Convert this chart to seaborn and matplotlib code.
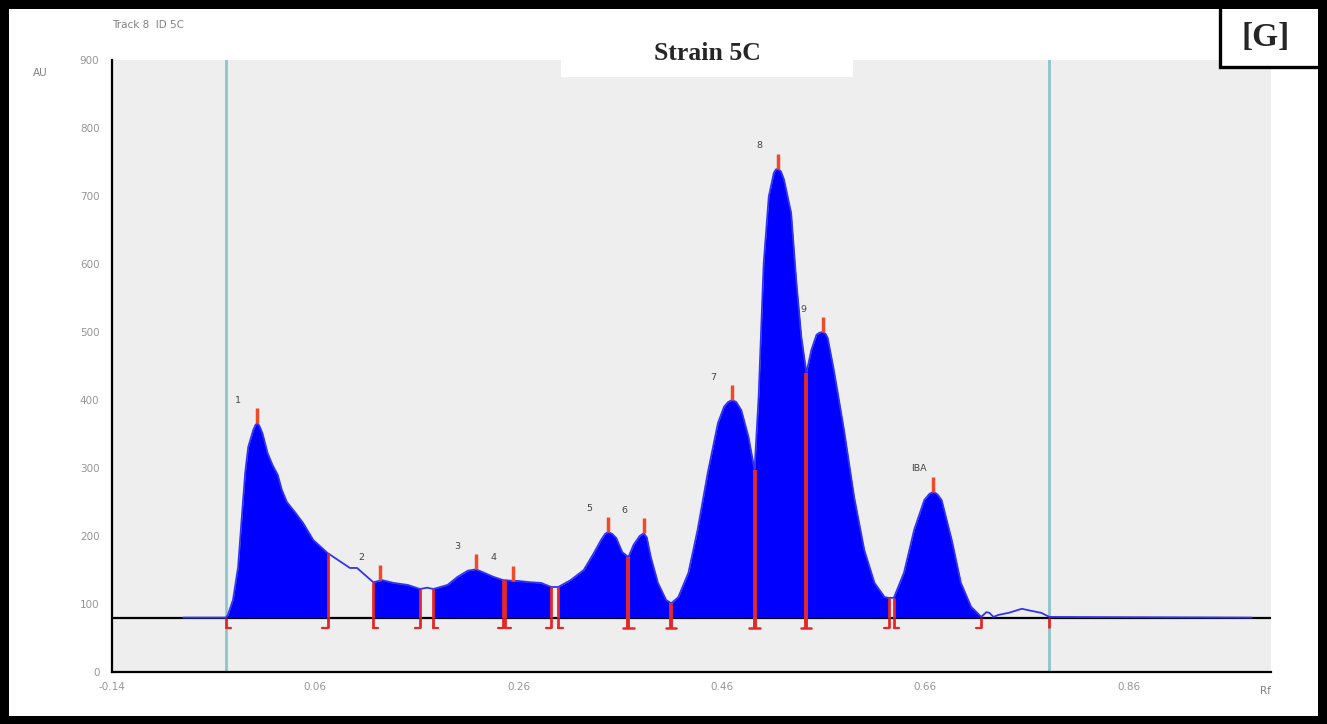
import numpy as np
import pandas as pd
import matplotlib
matplotlib.use("Agg")
import matplotlib.pyplot as plt
import seaborn as sns
from matplotlib.patches import Rectangle

# ---- data ----
rf = [-0.070, -0.028, -0.026, -0.021, -0.016, -0.012, -0.009, -0.006, -0.001, 0.001,
      0.003, 0.005, 0.008, 0.013, 0.018, 0.023, 0.027, 0.032, 0.040, 0.048,
      0.058, 0.072, 0.085, 0.094, 0.101, 0.117, 0.126, 0.137, 0.151, 0.163,
      0.170, 0.176, 0.190, 0.200, 0.210, 0.218, 0.226, 0.235, 0.245, 0.247,
      0.254, 0.259, 0.272, 0.282, 0.292, 0.299, 0.311, 0.324, 0.334, 0.341,
      0.345, 0.348, 0.352, 0.356, 0.362, 0.368, 0.373, 0.379, 0.383, 0.386,
      0.390, 0.397, 0.405, 0.410, 0.417, 0.427, 0.436, 0.446, 0.456, 0.462,
      0.466, 0.470, 0.474, 0.479, 0.486, 0.492, 0.496, 0.501, 0.506, 0.511,
      0.513, 0.515, 0.518, 0.521, 0.528, 0.533, 0.538, 0.543, 0.548, 0.553,
      0.556, 0.559, 0.562, 0.564, 0.570, 0.580, 0.590, 0.600, 0.610, 0.620,
      0.624, 0.629, 0.639, 0.649, 0.659, 0.664, 0.668, 0.672, 0.676, 0.686,
      0.695, 0.705, 0.715, 0.720, 0.723, 0.727, 0.732, 0.742, 0.755, 0.764,
      0.774, 0.782, 0.981]
au = [80, 80, 84, 106, 154, 234, 293, 331, 356, 363,
      366, 362, 351, 322, 304, 290, 268, 250, 235, 219,
      194, 175, 162, 153, 153, 132, 135, 131, 128, 122,
      124, 122, 128, 140, 149, 151, 146, 140, 135, 135,
      134, 134, 132, 131, 125, 125, 135, 150, 175, 194,
      203, 206, 203, 197, 176, 169, 187, 200, 204, 198,
      169, 131, 106, 101, 110, 146, 209, 293, 366, 390,
      397, 400, 397, 385, 346, 297, 404, 601, 699, 734,
      739, 740, 736, 724, 675, 576, 493, 440, 474, 496,
      499, 500, 497, 491, 444, 356, 257, 179, 131, 110,
      109, 109, 146, 209, 253, 262, 265, 261, 253, 194,
      131, 96, 81, 88, 87, 81, 84, 87, 93, 90,
      87, 81, 80]

baseline_au = 80

peak_labels = ["1", "2", "3", "4", "5", "6", "7", "8", "9", "IBA"]
peak_rf = [0.003, 0.124, 0.218, 0.254, 0.348, 0.383, 0.470, 0.515, 0.559, 0.668]
peak_au = [366, 135, 151, 134, 206, 204, 400, 740, 500, 265]

seg_start = [-0.028, 0.117, 0.176, 0.247, 0.299, 0.368, 0.410, 0.492, 0.543, 0.629]
seg_end = [0.072, 0.163, 0.245, 0.292, 0.368, 0.410, 0.492, 0.543, 0.624, 0.715]

marker_rf = [-0.028, 0.072, 0.117, 0.163, 0.176, 0.245, 0.247, 0.292, 0.299,
             0.368, 0.410, 0.492, 0.543, 0.624, 0.629, 0.715, 0.782]
marker_kind = ["L", "R", "L", "R", "L", "R", "L", "R", "L",
               "B", "B", "B", "B", "R", "L", "R", "S"]

window_rf = [-0.028, 0.782]

x_ticks = [-0.14, 0.06, 0.26, 0.46, 0.66, 0.86]
x_tick_labels = ["-0.14", "0.06", "0.26", "0.46", "0.66", "0.86"]
y_ticks = [0, 100, 200, 300, 400, 500, 600, 700, 800, 900]
y_tick_labels = [str(v) for v in y_ticks]

# ---- drawing ----
sns.set_theme(style="white")
plt.rcParams['font.family'] = ['DejaVu Sans']

W, H = 1327, 724
fig = plt.figure(figsize=(W / 100, H / 100), dpi=100)
fig.patch.set_facecolor("white")
ax = fig.add_axes([112 / W, 52 / H, (1271 - 112) / W, (672 - 60) / H])
ax.set_facecolor("#eeeeee")
ax.set_xlim(-0.14, 1.0)
ax.set_ylim(0, 900)

for s in ["top", "right"]:
    ax.spines[s].set_visible(False)
for s in ["left", "bottom"]:
    ax.spines[s].set_color("black")
    ax.spines[s].set_linewidth(1.6)

ax.set_xticks(x_ticks)
ax.set_xticklabels(x_tick_labels)
ax.set_yticks(y_ticks)
ax.set_yticklabels(y_tick_labels)
ax.tick_params(axis="both", direction="out", length=5, width=1.2, color="black",
               labelcolor="#959595", labelsize=7.5, pad=4)
ax.tick_params(axis="x", length=3)

rf_arr = np.array(rf)
au_arr = np.array(au)

# window lines
for w in window_rf:
    ax.axvline(w, color="#8cc4c8", lw=2.0, zorder=1.5)

# baseline
ax.axhline(baseline_au, color="black", lw=1.6, zorder=2)

# fill of integrated peaks
for a, b in zip(seg_start, seg_end):
    m = (rf_arr >= a - 1e-9) & (rf_arr <= b + 1e-9)
    ax.fill_between(rf_arr[m], baseline_au, au_arr[m], color="#0000ff", lw=0, zorder=2.5)

# trace
df = pd.DataFrame({"Rf": rf, "AU": au})
sns.lineplot(data=df, x="Rf", y="AU", ax=ax, color="#3434f0", lw=1.3,
             sort=False, estimator=None, zorder=3)
ax.set_xlabel("")
ax.set_ylabel("")

# red boundary markers
red = "#e42828"
foot = 0.005
low = baseline_au - 15
for x, k in zip(marker_rf, marker_kind):
    ytop = float(np.interp(x, rf_arr, au_arr))
    lw = 2.8 if k == "B" else 2.0
    if ytop > baseline_au + 1:
        ax.plot([x, x], [baseline_au, ytop], color=red, lw=lw, zorder=5,
                solid_capstyle="butt")
    ax.plot([x, x], [baseline_au, low], color=red, lw=lw, zorder=5, solid_capstyle="butt")
    if k == "L":
        ax.plot([x, x + foot], [low, low], color=red, lw=1.6, zorder=5)
    elif k == "R":
        ax.plot([x - foot, x], [low, low], color=red, lw=1.6, zorder=5)
    elif k == "B":
        ax.plot([x - foot, x + foot], [low, low], color=red, lw=1.8, zorder=5)

# peak apex ticks and labels
for lbl, px, pa in zip(peak_labels, peak_rf, peak_au):
    ax.plot([px, px], [pa, pa + 22], color="#f04a2a", lw=2.5, zorder=5,
            solid_capstyle="butt")
    ax.annotate(lbl, (px, pa), xytext=(-22 * 0.72, 23 * 0.72), textcoords="offset points",
                ha="left", va="center", fontsize=6.8, color="#444444", zorder=6)

# text around axes
fig.text(112 / W, 1 - 25 / H, "Track 8  ID 5C", fontsize=7.5, color="#808080",
         ha="left", va="center")
fig.text(40 / W, 1 - 73 / H, "AU", fontsize=7.5, color="#808080", ha="center", va="center")
fig.text(1265 / W, 1 - 691 / H, "Rf", fontsize=7.5, color="#808080", ha="center", va="center")

# title box
fig.add_artist(Rectangle((561 / W, 1 - 77 / H), 292 / W, 37 / H, transform=fig.transFigure,
                         facecolor="white", edgecolor="none", zorder=10))
fig.text(707 / W, 1 - 53 / H, "Strain 5C", fontsize=18.5, fontweight="bold",
         family=["Liberation Serif", "DejaVu Serif"], ha="center", va="center", zorder=11)

# [G] box
fig.add_artist(Rectangle((1220 / W, 1 - 67 / H), 107 / W, 67 / H, transform=fig.transFigure,
                         facecolor="white", edgecolor="black", lw=2.4, zorder=10))
fig.text(1266 / W, 1 - 38 / H, "[G]", fontsize=24, fontweight="bold",
         family=["Liberation Serif", "DejaVu Serif"], ha="center", va="center", zorder=11)

# outer black frame
for (x0, y0, w, h) in [(0, 0, 9, H), (W - 9, 0, 9, H), (0, H - 9, W, 9), (0, 0, W, 8)]:
    fig.add_artist(Rectangle((x0 / W, y0 / H), w / W, h / H, transform=fig.transFigure,
                             facecolor="black", edgecolor="none", zorder=12))

fig.savefig("out.png", dpi=100)
